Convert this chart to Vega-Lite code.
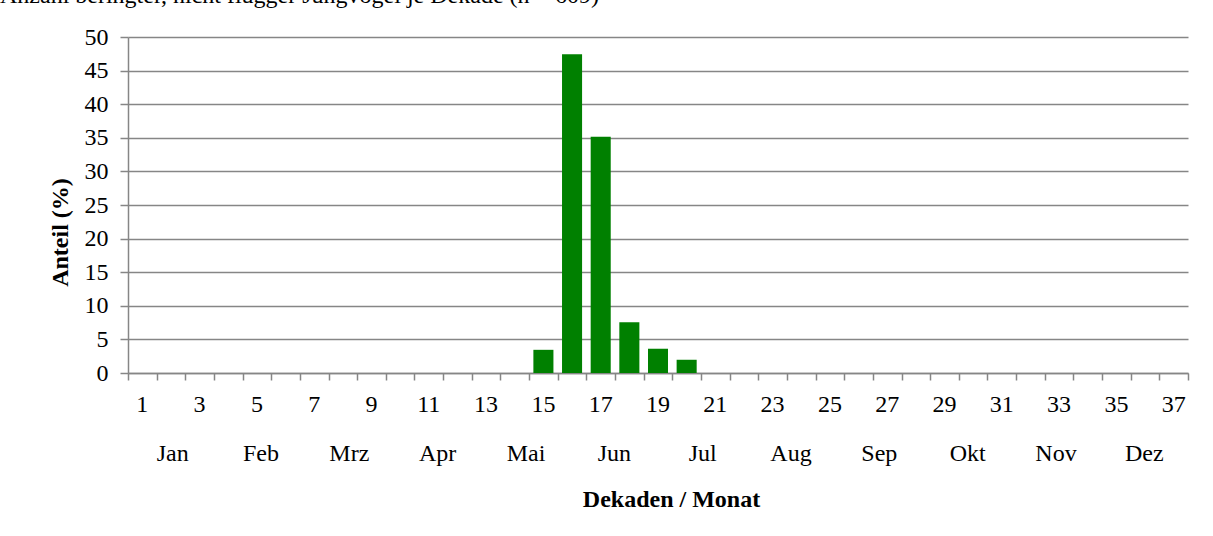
{
  "$schema": "https://vega.github.io/schema/vega-lite/v6.json",
  "autosize": {"type": "none"},
  "padding": {"left": 128, "top": 37, "right": 25, "bottom": 163},
  "width": 1060,
  "height": 336,
  "background": "white",
  "config": {"view": {"stroke": null}, "font": "Liberation Serif"},
  "title": {
    "text": "Anzahl beringter, nicht flügger Jungvögel je Dekade (n = 609)",
    "anchor": "start",
    "frame": "group",
    "baseline": "alphabetic",
    "offset": -2,
    "dx": -128,
    "font": "Liberation Serif",
    "fontSize": 24,
    "fontWeight": "normal",
    "color": "black"
  },
  "datasets": {
    "dekaden": [
      {"Dekade": 1, "Anteil": 0}, {"Dekade": 2, "Anteil": 0}, {"Dekade": 3, "Anteil": 0},
      {"Dekade": 4, "Anteil": 0}, {"Dekade": 5, "Anteil": 0}, {"Dekade": 6, "Anteil": 0},
      {"Dekade": 7, "Anteil": 0}, {"Dekade": 8, "Anteil": 0}, {"Dekade": 9, "Anteil": 0},
      {"Dekade": 10, "Anteil": 0}, {"Dekade": 11, "Anteil": 0}, {"Dekade": 12, "Anteil": 0},
      {"Dekade": 13, "Anteil": 0}, {"Dekade": 14, "Anteil": 0}, {"Dekade": 15, "Anteil": 3.45},
      {"Dekade": 16, "Anteil": 47.45}, {"Dekade": 17, "Anteil": 35.14}, {"Dekade": 18, "Anteil": 7.55},
      {"Dekade": 19, "Anteil": 3.61}, {"Dekade": 20, "Anteil": 1.97}, {"Dekade": 21, "Anteil": 0},
      {"Dekade": 22, "Anteil": 0}, {"Dekade": 23, "Anteil": 0}, {"Dekade": 24, "Anteil": 0},
      {"Dekade": 25, "Anteil": 0}, {"Dekade": 26, "Anteil": 0}, {"Dekade": 27, "Anteil": 0},
      {"Dekade": 28, "Anteil": 0}, {"Dekade": 29, "Anteil": 0}, {"Dekade": 30, "Anteil": 0},
      {"Dekade": 31, "Anteil": 0}, {"Dekade": 32, "Anteil": 0}, {"Dekade": 33, "Anteil": 0},
      {"Dekade": 34, "Anteil": 0}, {"Dekade": 35, "Anteil": 0}, {"Dekade": 36, "Anteil": 0},
      {"Dekade": 37, "Anteil": 0}
    ],
    "monate": [
      {"Monat": "Jan"}, {"Monat": "Feb"}, {"Monat": "Mrz"}, {"Monat": "Apr"},
      {"Monat": "Mai"}, {"Monat": "Jun"}, {"Monat": "Jul"}, {"Monat": "Aug"},
      {"Monat": "Sep"}, {"Monat": "Okt"}, {"Monat": "Nov"}, {"Monat": "Dez"}
    ]
  },
  "layer": [
    {
      "data": {"name": "dekaden"},
      "mark": {"type": "bar", "color": "#008000"},
      "encoding": {
        "x": {
          "field": "Dekade",
          "type": "ordinal",
          "scale": {"paddingInner": 0.3, "paddingOuter": 0.15},
          "axis": {
            "orient": "bottom",
            "title": null,
            "ticks": false,
            "domain": false,
            "grid": false,
            "labelAngle": 0,
            "labelExpr": "datum.value % 2 == 1 ? datum.label : ''",
            "labelFont": "Liberation Serif",
            "labelFontSize": 24,
            "labelColor": "black",
            "labelPadding": 19,
            "labelBaseline": "top"
          }
        },
        "y": {
          "field": "Anteil",
          "type": "quantitative",
          "scale": {"domain": [0, 50], "nice": false},
          "axis": {
            "title": "Anteil (%)",
            "values": [0, 5, 10, 15, 20, 25, 30, 35, 40, 45, 50],
            "grid": true,
            "gridColor": "#868686",
            "gridWidth": 1.5,
            "domainColor": "#868686",
            "domainWidth": 1.5,
            "tickColor": "#868686",
            "tickWidth": 1.5,
            "tickSize": 8,
            "labelFont": "Liberation Serif",
            "labelFontSize": 24,
            "labelColor": "black",
            "labelPadding": 12,
            "titleFont": "Liberation Serif",
            "titleFontSize": 24,
            "titleFontWeight": "bold",
            "titleColor": "black",
            "titlePadding": 12,
            "titleY": 195
          }
        }
      }
    },
    {
      "data": {"name": "dekaden"},
      "mark": {"type": "point", "opacity": 0},
      "encoding": {
        "x": {
          "field": "Dekade",
          "type": "quantitative",
          "scale": {"domain": [0.5, 37.5], "nice": false, "zero": false},
          "axis": {
            "orient": "bottom",
            "title": null,
            "values": [0.5, 1.5, 2.5, 3.5, 4.5, 5.5, 6.5, 7.5, 8.5, 9.5, 10.5, 11.5, 12.5, 13.5, 14.5, 15.5, 16.5, 17.5, 18.5, 19.5, 20.5, 21.5, 22.5, 23.5, 24.5, 25.5, 26.5, 27.5, 28.5, 29.5, 30.5, 31.5, 32.5, 33.5, 34.5, 35.5, 36.5, 37.5],
            "labels": false,
            "grid": false,
            "domainColor": "#868686",
            "domainWidth": 1.5,
            "tickColor": "#868686",
            "tickWidth": 1.5,
            "tickSize": 7
          }
        }
      }
    },
    {
      "data": {"name": "monate"},
      "mark": {"type": "point", "opacity": 0},
      "encoding": {
        "x": {
          "field": "Monat",
          "type": "nominal",
          "sort": ["Jan", "Feb", "Mrz", "Apr", "Mai", "Jun", "Jul", "Aug", "Sep", "Okt", "Nov", "Dez"],
          "scale": {"paddingInner": 0, "paddingOuter": 0},
          "axis": {
            "orient": "bottom",
            "title": "Dekaden / Monat",
            "ticks": false,
            "domain": false,
            "grid": false,
            "labelAngle": 0,
            "labelFont": "Liberation Serif",
            "labelFontSize": 24,
            "labelColor": "black",
            "labelPadding": 68,
            "labelBaseline": "top",
            "titleFont": "Liberation Serif",
            "titleFontSize": 24,
            "titleFontWeight": "bold",
            "titleColor": "black",
            "titlePadding": 22,
            "titleX": 543
          }
        }
      }
    }
  ],
  "resolve": {"scale": {"x": "independent"}, "axis": {"x": "independent"}}
}
